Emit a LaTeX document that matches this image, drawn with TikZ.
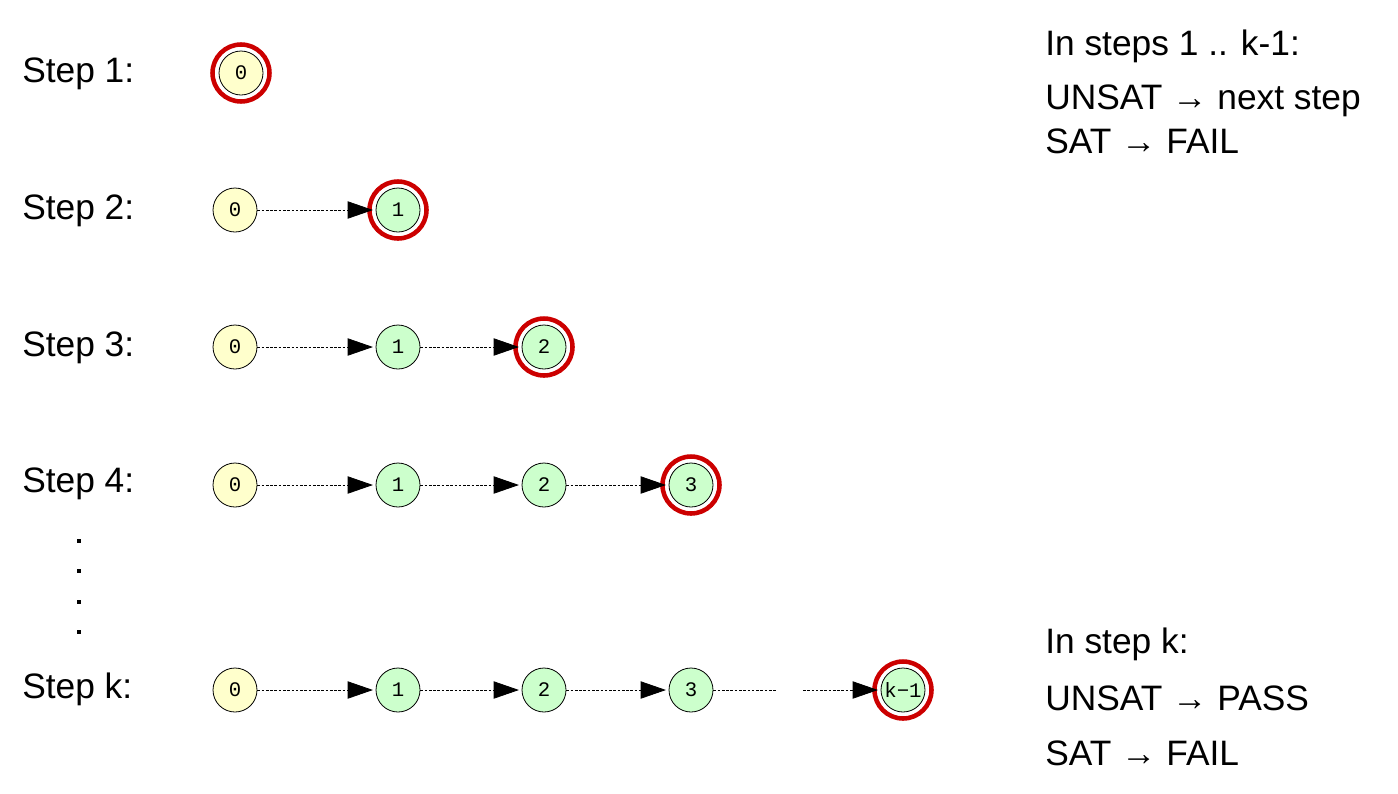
\documentclass[tikz,border=0pt]{standalone}
\usepackage{fontspec}
\setmainfont{Liberation Sans}
\newfontfamily\nodefont{Liberation Mono}
\usetikzlibrary{arrows.meta}
\definecolor{yel}{HTML}{FFFFCC}
\definecolor{grn}{HTML}{CCFFCC}
\definecolor{ringred}{HTML}{CC0000}
\tikzset{
  st/.style={circle,draw=black,line width=0.6pt,minimum size=33pt,inner sep=0pt,font=\nodefont\fontsize{15.5}{15.5}\selectfont},
  init/.style={st,fill=yel},
  later/.style={st,fill=grn},
  ring/.style={draw=ringred,line width=3.4pt},
  trans/.style={line width=0.6pt,dash pattern=on 2pt off 1.2pt,-{Triangle[length=19pt,width=13pt]},shorten >=2pt},
  seg/.style={line width=0.6pt,dash pattern=on 2pt off 1.2pt},
  lbl/.style={anchor=west,inner sep=0pt,font=\fontsize{26.5}{30}\selectfont},
  dot/.style={fill=black,minimum size=3.2pt,inner sep=0pt}
}
\begin{document}
\begin{tikzpicture}[x=0.75pt,y=-0.75pt]
\useasboundingbox (0,0) rectangle (1398,793);
% labels
\node[lbl] (l1) at (22,74) {Step 1:};
\node[lbl] (l2) at (22,211) {Step 2:};
\node[lbl] (l3) at (22,348) {Step 3:};
\node[lbl] (l4) at (22,484) {Step 4:};
\node[lbl] (lk) at (22,689) {Step k:};
\foreach \y/\n in {541/a,571/b,602/c,632/d} \node[dot] (dot\n) at (79,\y) {};
% step 1
\node[init] (a0) at (241,73) {0};
\draw[ring] (a0.center) circle (28.5);
% step 2
\node[init] (b0) at (235,210) {0};
\node[later] (b1) at (398,210) {1};
\draw[ring] (b1.center) circle (28.5);
\draw[trans] (b0) -- (b1);
% step 3
\node[init] (c0) at (235,347) {0};
\node[later] (c1) at (398,347) {1};
\node[later] (c2) at (544,347) {2};
\draw[ring] (c2.center) circle (28.5);
\draw[trans] (c0) -- (c1);
\draw[trans] (c1) -- (c2);
% step 4
\node[init] (d0) at (235,485) {0};
\node[later] (d1) at (398,485) {1};
\node[later] (d2) at (544,485) {2};
\node[later] (d3) at (691,485) {3};
\draw[ring] (d3.center) circle (28.5);
\draw[trans] (d0) -- (d1);
\draw[trans] (d1) -- (d2);
\draw[trans] (d2) -- (d3);
% step k
\node[init] (e0) at (235,690) {0};
\node[later] (e1) at (398,690) {1};
\node[later] (e2) at (544,690) {2};
\node[later] (e3) at (691,690) {3};
\node[later] (ek) at (903,690) {k−1};
\draw[ring] (ek.center) circle (28.5);
\draw[trans] (e0) -- (e1);
\draw[trans] (e1) -- (e2);
\draw[trans] (e2) -- (e3);
\coordinate (gapa) at (777,690);
\coordinate (gapb) at (803,690);
\draw[seg] (e3) -- (gapa);
\draw[trans] (gapb) -- (ek);
% right texts
\node[lbl] (t1) at (1045,46) {In steps 1 .. k-1:};
\node[lbl] (t2) at (1045,101) {UNSAT → next step};
\node[lbl] (t3) at (1045,141) {SAT → FAIL};
\node[lbl] (t4) at (1045,644) {In step k:};
\node[lbl] (t5) at (1045,698) {UNSAT → PASS};
\node[lbl] (t6) at (1045,753) {SAT → FAIL};
\end{tikzpicture}
\end{document}
